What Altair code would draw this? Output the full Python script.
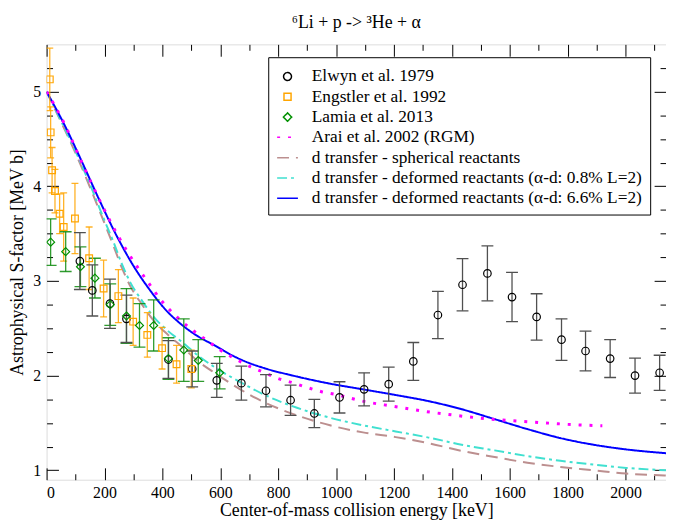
import altair as alt
import pandas as pd

# ---------------- data ----------------
elwyn_E = [115, 158, 219, 276, 421, 503, 588, 673, 758, 843, 925, 1012, 1097, 1182,
           1267, 1352, 1437, 1523, 1608, 1693, 1779, 1862, 1947, 2033, 2118]
elwyn_S = [3.21, 2.90, 2.76, 2.60, 2.17, 2.07, 1.95, 1.92, 1.84, 1.74, 1.60, 1.77, 1.855, 1.91,
           2.15, 2.64, 2.96, 3.08, 2.83, 2.62, 2.38, 2.26, 2.18, 2.00, 2.03]
elwyn_err = [0.30, 0.27, 0.26, 0.25, 0.20, 0.19, 0.18, 0.18, 0.17, 0.16, 0.15, 0.165, 0.175, 0.18,
             0.20, 0.25, 0.275, 0.29, 0.26, 0.245, 0.22, 0.21, 0.20, 0.185, 0.185]

engstler_E = [11, 14, 19, 29, 45, 59, 98, 147, 197, 248, 299, 348, 399, 449, 500]
engstler_S = [5.13, 4.57, 4.17, 3.95, 3.71, 3.57, 3.66, 3.24, 2.92, 2.84, 2.57, 2.43, 2.29, 2.12, 2.07]
engstler_err = [0.33, 0.27, 0.24, 0.23, 0.21, 0.36, 0.37, 0.33, 0.30, 0.28, 0.25, 0.235, 0.22, 0.20, 0.20]

lamia_E = [14, 66, 117, 167, 220, 276, 321, 370, 421, 474, 524, 598]
lamia_S = [3.41, 3.31, 3.15, 3.03, 2.75, 2.63, 2.53, 2.53, 2.18, 2.27, 2.16, 2.03]
lamia_err = [0.245, 0.21, 0.21, 0.21, 0.22, 0.29, 0.23, 0.27, 0.22, 0.33, 0.22, 0.17]

arai_E = [0, 60, 125, 190, 250, 300, 350, 400, 450, 500, 550, 600, 650, 700, 750, 800, 850,
          900, 950, 1000, 1100, 1200, 1300, 1400, 1500, 1600, 1700, 1800, 1920]
arai_S = [5.00, 4.67, 4.23, 3.81, 3.46, 3.21, 2.99, 2.78, 2.62, 2.49, 2.38, 2.27, 2.18, 2.10,
          2.035, 1.97, 1.925, 1.875, 1.83, 1.80, 1.725, 1.675, 1.625, 1.585, 1.55, 1.525,
          1.505, 1.485, 1.47]

blue_E = [0, 60, 125, 180, 245, 300, 353, 410, 466, 523, 580, 637, 694, 751, 865, 979, 1093,
          1206, 1320, 1434, 1548, 1661, 1775, 1889, 2003, 2140]
blue_S = [5.00, 4.66, 4.24, 3.87, 3.46, 3.16, 2.92, 2.70, 2.54, 2.415, 2.32, 2.22, 2.14, 2.08,
          1.99, 1.915, 1.855, 1.795, 1.73, 1.645, 1.54, 1.435, 1.34, 1.27, 1.22, 1.18]

model_E = [0, 50, 100, 150, 200, 230, 260, 290, 330, 370, 420, 470, 520, 580, 640, 700, 751,
           865, 979, 1093, 1206, 1320, 1434, 1548, 1661, 1775, 1889, 2003, 2140]
cyan_S = [5.00, 4.69, 4.37, 4.02, 3.64, 3.42, 3.18, 2.98, 2.79, 2.62, 2.47, 2.35, 2.22, 2.09,
          1.98, 1.88, 1.80, 1.66, 1.555, 1.475, 1.41, 1.345, 1.27, 1.21, 1.15, 1.10, 1.06,
          1.025, 1.00]
brown_S = [5.00, 4.68, 4.35, 3.99, 3.61, 3.38, 3.14, 2.94, 2.75, 2.58, 2.43, 2.30, 2.16, 2.03,
           1.91, 1.80, 1.72, 1.58, 1.475, 1.40, 1.35, 1.285, 1.205, 1.14, 1.08, 1.035, 1.00,
           0.965, 0.945]

series = [
    "Elwyn et al. 1979",
    "Engstler et al. 1992",
    "Lamia et al. 2013",
    "Arai et al. 2002 (RGM)",
    "d transfer - spherical reactants",
    "d transfer - deformed reactants (\u03b1-d: 0.8% L=2)",
    "d transfer - deformed reactants (\u03b1-d: 6.6% L=2)",
]
series_colors = ["#000000", "#ffa500", "#009000", "#ff00ff", "#bc8f8f", "#40e0d0", "#0000ff"]
circle_path = "M -0.38,0 A 0.38,0.38 0 1,0 0.38,0 A 0.38,0.38 0 1,0 -0.38,0 Z"
square_path = "M -0.34,-0.34 L 0.34,-0.34 L 0.34,0.34 L -0.34,0.34 Z"
diamond_path = "M 0,-0.4 L 0.4,0 L 0,0.4 L -0.4,0 Z"
series_shapes = [circle_path, square_path, diamond_path, "stroke", "stroke", "stroke", "stroke"]
series_dashes = [[1, 0], [1, 0], [1, 0], [3, 8], [12, 7], [10, 4, 3, 4], [1, 0]]

x_major = [0, 200, 400, 600, 800, 1000, 1200, 1400, 1600, 1800, 2000]
x_minor = [100, 300, 500, 700, 900, 1100, 1300, 1500, 1700, 1900, 2100]
y_major = [1, 2, 3, 4, 5]
y_minor = [1.25, 1.5, 1.75, 2.25, 2.5, 2.75, 3.25, 3.5, 3.75, 4.25, 4.5, 4.75, 5.25]

# ---------------- tables ----------------
def pts(E, S, err, name):
    return pd.DataFrame({"E": E, "S": S, "lo": [s - e for s, e in zip(S, err)],
                         "hi": [s + e for s, e in zip(S, err)], "series": name})

elwyn_df = pts(elwyn_E, elwyn_S, elwyn_err, series[0])
engstler_df = pts(engstler_E, engstler_S, engstler_err, series[1])
lamia_df = pts(lamia_E, lamia_S, lamia_err, series[2])
points_df = pd.concat([elwyn_df, engstler_df, lamia_df])

arai_df = pd.DataFrame({"E": arai_E, "S": arai_S, "series": series[3]})
curves_df = pd.concat([
    pd.DataFrame({"E": model_E, "S": brown_S, "series": series[4]}),
    pd.DataFrame({"E": model_E, "S": cyan_S, "series": series[5]}),
    pd.DataFrame({"E": blue_E, "S": blue_S, "series": series[6]}),
])

FONT = "Liberation Serif"
xs = alt.Scale(domain=[0, 2140], nice=False, zero=False)
ys = alt.Scale(domain=[0.9, 5.5], nice=False, zero=False)

leg = alt.Legend(orient="none", legendX=224, legendY=13, title=None,
                 strokeColor="black", fillColor="white", padding=8,
                 labelFont=FONT, labelFontSize=17.5, labelColor="black", labelLimit=600,
                 labelOffset=13, rowPadding=0.5, symbolStrokeWidth=1.5, symbolSize=441,
                 symbolOffset=0)

color_enc = alt.Color("series:N", scale=alt.Scale(domain=series, range=series_colors), legend=leg)
dash_enc = alt.StrokeDash("series:N", scale=alt.Scale(domain=series, range=series_dashes), legend=leg)
shape_enc = alt.Shape("series:N", scale=alt.Scale(domain=series, range=series_shapes), legend=leg)

common_axis = dict(ticks=False, domain=False, gridColor="black", gridOpacity=1, gridWidth=1,
                   labelFont=FONT, labelFontSize=16, labelColor="black",
                   titleFont=FONT, titleFontSize=18, titleColor="black", titleFontWeight="normal")

x_major_axis = alt.Axis(orient="bottom", values=x_major, format="d", grid=True,
                        gridDash=[12, 416, 12, 0], labelPadding=5, titlePadding=1,
                        title="Center-of-mass collision energy [keV]", **common_axis)
y_major_axis = alt.Axis(orient="left", values=y_major, format="d", grid=True,
                        gridDash=[12, 602, 12, 0], labelPadding=6, titlePadding=6,
                        title="Astrophysical S-factor [MeV b]", **common_axis)
x_minor_axis = alt.Axis(orient="top", values=x_minor, grid=True, labels=False, title=None,
                        gridDash=[6, 428, 6, 0], **common_axis)
y_minor_axis = alt.Axis(orient="right", values=y_minor, grid=True, labels=False, title=None,
                        gridDash=[6, 614, 6, 0], **common_axis)

curves = alt.Chart(curves_df).mark_line(strokeWidth=2, interpolate="monotone", clip=True).encode(
    x=alt.X("E:Q", scale=xs, axis=x_major_axis),
    y=alt.Y("S:Q", scale=ys, axis=y_major_axis),
    color=color_enc, strokeDash=dash_enc,
)
arai = alt.Chart(arai_df).mark_line(strokeWidth=3, strokeCap="butt", interpolate="monotone",
                                    clip=True).encode(
    x=alt.X("E:Q", scale=xs, axis=x_minor_axis),
    y=alt.Y("S:Q", scale=ys, axis=y_minor_axis),
    color=color_enc, strokeDash=dash_enc,
)

def errbars(df, col, cap, opacity=1.0):
    rule = alt.Chart(df).mark_rule(color=col, strokeWidth=1.3, opacity=opacity, clip=True).encode(
        x=alt.X("E:Q", scale=xs, axis=None),
        y=alt.Y("lo:Q", scale=ys, axis=None), y2="hi:Q")
    caps = alt.Chart(df).transform_fold(["lo", "hi"], as_=["end", "val"]).mark_tick(
        color=col, orient="horizontal", size=cap, thickness=1.3, opacity=opacity, clip=True).encode(
        x=alt.X("E:Q", scale=xs, axis=None),
        y=alt.Y("val:Q", scale=ys, axis=None))
    return [rule, caps]

layers = [curves, arai]
layers += errbars(engstler_df, "#ffa500", 7, 0.85)
layers += errbars(lamia_df, "#0a8a0a", 12, 0.85)
layers += errbars(elwyn_df, "#505050", 12)

points = alt.Chart(points_df).mark_point(filled=False, size=400, strokeWidth=1.2, opacity=1,
                                         clip=True).encode(
    x=alt.X("E:Q", scale=xs, axis=None),
    y=alt.Y("S:Q", scale=ys, axis=None),
    color=color_enc, shape=shape_enc,
)
layers.append(points)

chart = alt.layer(*layers).resolve_axis(x="independent", y="independent").properties(
    width=626, height=440,
    autosize=alt.AutoSizeParams(type="none"),
    padding={"left": 39, "top": 34, "right": 0, "bottom": 41},
    title=alt.TitleParams("\u2076Li + p -> \u00b3He + \u03b1", font=FONT, fontSize=18,
                          fontWeight="normal", color="black", offset=13, anchor="middle"),
).configure_view(stroke="black", strokeWidth=1.5).configure_legend(
    labelFont=FONT, labelFontSize=17.5, labelColor="black"
).configure_axis(labelFont=FONT, titleFont=FONT).configure(font=FONT)

chart.save("out.html", embed_options={"renderer": "svg", "actions": False})
